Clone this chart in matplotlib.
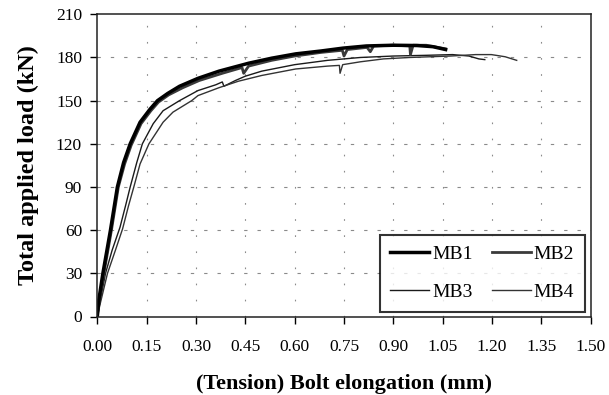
import matplotlib
matplotlib.use("Agg")
import matplotlib.pyplot as plt
from matplotlib.ticker import FormatStrFormatter

# elongation (mm) / load (kN)
mb1_x = [0.0, 0.005, 0.017, 0.04, 0.061, 0.08, 0.1, 0.13, 0.16, 0.183, 0.214, 0.25, 0.306, 0.37, 0.46, 0.53, 0.603, 0.68, 0.747, 0.818, 0.9, 0.972, 1.02, 1.059]
mb1_y = [0.0, 12, 30, 60, 90, 107, 120, 135, 144, 150, 155, 160, 165.5, 170.5, 176, 179.5, 182.5, 184.5, 186.5, 188, 188.5, 188.3, 187.5, 185.5]
mb2_x = [0.0, 0.006, 0.02, 0.043, 0.064, 0.083, 0.103, 0.133, 0.163, 0.186, 0.217, 0.26, 0.31, 0.38, 0.44, 0.445, 0.46, 0.53, 0.6, 0.68, 0.745, 0.75, 0.76, 0.82, 0.83, 0.84, 0.9, 0.95, 0.952, 0.96, 1.0, 1.059]
mb2_y = [0.0, 12, 30, 60, 90, 106, 119, 134, 143, 149, 154, 159, 164, 169, 173, 169, 174, 178, 181, 183.5, 185, 181, 185.5, 187, 184, 188, 188.5, 188, 182, 188.5, 188.5, 186]
mb3_x = [0.0, 0.008, 0.025, 0.045, 0.069, 0.087, 0.1, 0.12, 0.137, 0.17, 0.2, 0.25, 0.306, 0.36, 0.38, 0.385, 0.42, 0.45, 0.5, 0.6, 0.7, 0.8, 0.9, 1.0, 1.08, 1.13, 1.16, 1.178]
mb3_y = [0.0, 10, 30, 46, 62, 78, 90, 107, 120, 134, 143, 150, 157, 161, 163, 160, 164, 167, 170.5, 175, 178, 180, 181, 181.5, 182, 181, 179, 178.5]
mb4_x = [0.0, 0.01, 0.031, 0.055, 0.077, 0.095, 0.111, 0.13, 0.157, 0.18, 0.2, 0.23, 0.287, 0.306, 0.37, 0.429, 0.5, 0.603, 0.7, 0.736, 0.738, 0.746, 0.8, 0.87, 0.95, 1.074, 1.15, 1.198, 1.24, 1.275]
mb4_y = [0.0, 10, 30, 46, 61, 77, 90, 106, 120, 128, 135, 142, 150, 153.5, 159, 163.5, 167.5, 172, 174, 174.5, 169, 175, 177, 179, 180, 181, 182, 182, 180.5, 178]

x_ticks = [0.0, 0.15, 0.30, 0.45, 0.60, 0.75, 0.90, 1.05, 1.20, 1.35, 1.50]
y_ticks = [0, 30, 60, 90, 120, 150, 180, 210]

plt.rcParams["font.family"] = ["Liberation Serif", "DejaVu Serif"]

fig = plt.figure(figsize=(6.09, 3.95), dpi=100)
ax = fig.add_axes([97.3 / 609, 1 - 316.5 / 395, 493.4 / 609, 302.2 / 395])

for xv in x_ticks[1:-1]:
    ax.axvline(xv, color="#8a8a8a", lw=0.8, ls=(0, (1.5, 13)), zorder=0)
for yv in y_ticks[1:-1]:
    ax.axhline(yv, color="#8a8a8a", lw=0.8, ls=(0, (3, 9)), zorder=0)

ax.plot(mb3_x, mb3_y, color="#1a1a1a", lw=1.0, label="MB3")
ax.plot(mb4_x, mb4_y, color="#333333", lw=1.0, label="MB4")
ax.plot(mb2_x, mb2_y, color="#3a3a3a", lw=2.0, label="MB2")
ax.plot(mb1_x, mb1_y, color="#000000", lw=2.5, label="MB1")

ax.set_xlim(0, 1.5)
ax.set_ylim(0, 210)
ax.set_xticks(x_ticks)
ax.set_yticks(y_ticks)
ax.xaxis.set_major_formatter(FormatStrFormatter("%.2f"))
ax.tick_params(direction="out", length=5, width=1, labelsize=12.5, colors="black")
ax.tick_params(axis="x", pad=11)
ax.tick_params(axis="y", pad=6)
for s in ax.spines.values():
    s.set_linewidth(1.1)
    s.set_color("#222222")

ax.set_xlabel("(Tension) Bolt elongation (mm)", fontsize=16, fontweight="bold", labelpad=14)
ax.set_ylabel("Total applied load (kN)", fontsize=17.5, fontweight="bold", labelpad=12)

h, l = ax.get_legend_handles_labels()
order = [l.index("MB1"), l.index("MB3"), l.index("MB2"), l.index("MB4")]
leg = ax.legend([h[i] for i in order], [l[i] for i in order], ncol=2, loc="lower right",
                bbox_to_anchor=(0.9885, 0.015), fontsize=14, frameon=True, fancybox=False,
                edgecolor="black", handlelength=2.0, handletextpad=0.15, columnspacing=1.0,
                labelspacing=1.05, borderpad=0.55, borderaxespad=0)
leg.get_frame().set_linewidth(1.5)

fig.savefig("out.png", dpi=100, facecolor="white")
